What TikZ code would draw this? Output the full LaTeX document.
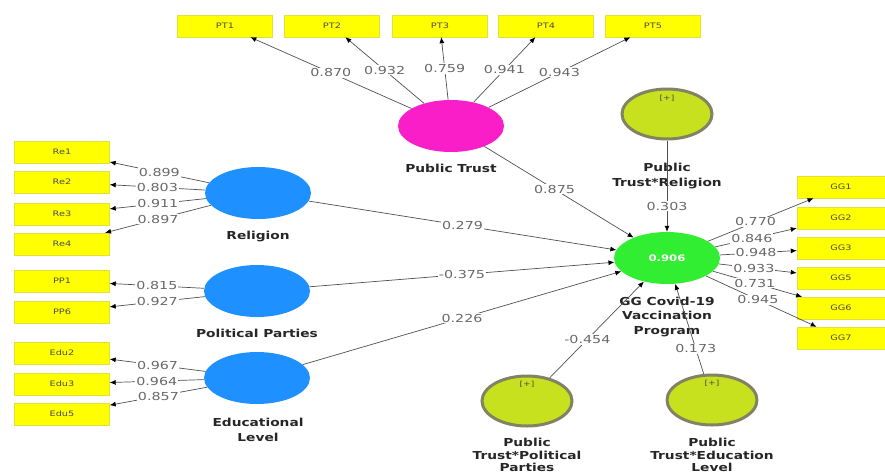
\documentclass[tikz,border=0pt]{standalone}
\usepackage{fontspec}
\setmainfont{DejaVu Sans}
\newfontfamily\numfont[FakeStretch=1.3]{DejaVu Sans}
\newfontfamily\namefont[FakeStretch=1.25]{DejaVu Sans}
\usetikzlibrary{arrows.meta,shapes.geometric}

\definecolor{ptpink}{RGB}{250,30,200}
\definecolor{lvblue}{RGB}{30,144,255}
\definecolor{gggreen}{RGB}{50,238,50}
\definecolor{modolive}{RGB}{200,225,30}
\definecolor{modedge}{RGB}{130,130,100}
\definecolor{indyellow}{RGB}{255,255,0}
\definecolor{indedge}{RGB}{225,225,60}
\definecolor{pathgray}{RGB}{80,80,80}
\definecolor{coefgray}{RGB}{105,105,105}

\tikzset{
    indicator/.style={draw=indedge, fill=indyellow, minimum width=95pt, minimum height=22pt,
        inner sep=0pt, text=black!70, font=\numfont\fontsize{7.5}{8}\selectfont},
    latent/.style={ellipse, minimum width=106pt, minimum height=52pt, inner sep=0pt},
    moderator/.style={ellipse, fill=modolive, draw=modedge, line width=3pt,
        minimum width=90pt, minimum height=50pt, inner sep=0pt},
    plus/.style={inner sep=0pt, text=black!70, font=\numfont\fontsize{7}{8}\selectfont},
    lvname/.style={align=center, text=black!85, font=\namefont\bfseries\fontsize{11}{14.5}\selectfont},
    load/.style={draw=pathgray, line width=0.7pt, -{Latex[length=6pt,width=5pt,color=black]}},
    coef/.style={fill=white, inner sep=1pt, text=coefgray, font=\numfont\fontsize{11}{12}\selectfont}
}

\begin{document}
\begin{tikzpicture}[x=1pt,y=-1pt]
    \useasboundingbox (0,0) rectangle (885,474);

    % indicators
    \node[indicator] (pt1) at (225,26) {PT1};
    \node[indicator] (pt2) at (332,26) {PT2};
    \node[indicator] (pt3) at (440,26) {PT3};
    \node[indicator] (pt4) at (546,26) {PT4};
    \node[indicator] (pt5) at (653,26) {PT5};

    \node[indicator] (re1) at (62,152) {Re1};
    \node[indicator] (re2) at (62,182) {Re2};
    \node[indicator] (re3) at (62,214) {Re3};
    \node[indicator] (re4) at (62,244) {Re4};
    \node[indicator] (pp1) at (62,281) {PP1};
    \node[indicator] (pp6) at (62,312) {PP6};
    \node[indicator] (edu2) at (62,353) {Edu2};
    \node[indicator] (edu3) at (62,384) {Edu3};
    \node[indicator] (edu5) at (62,414) {Edu5};

    \node[indicator, minimum width=88pt] (gg1) at (841,187) {GG1};
    \node[indicator, minimum width=88pt] (gg2) at (841,218) {GG2};
    \node[indicator, minimum width=88pt] (gg3) at (841,248) {GG3};
    \node[indicator, minimum width=88pt] (gg5) at (841,278) {GG5};
    \node[indicator, minimum width=88pt] (gg6) at (841,308) {GG6};
    \node[indicator, minimum width=88pt] (gg7) at (841,338) {GG7};

    % constructs
    \node[latent, fill=ptpink] (ptrust) at (451,126) {};
    \node[latent, fill=lvblue] (relig) at (258,193) {};
    \node[latent, fill=lvblue] (polpart) at (257,291) {};
    \node[latent, fill=lvblue] (educ) at (257,378) {};
    \node[latent, fill=gggreen, text=white, font=\numfont\bfseries\fontsize{9}{10}\selectfont] (ggvac) at (667,258) {0.906};

    \node[moderator] (ptrel) at (667,114) {};
    \node[moderator] (ptpol) at (527,401) {};
    \node[moderator] (ptedu) at (712,400) {};
    \node[plus] (ptrelplus) at ([yshift=-11pt]ptrel.north) {[+]};
    \node[plus] (ptpolplus) at ([yshift=-10pt]ptpol.north) {[+]};
    \node[plus] (ptedupplus) at ([yshift=-10pt]ptedu.north) {[+]};

    \node[lvname] (ptrustname) at (451,168) {Public Trust};
    \node[lvname] (religname) at (258,237) {Religion};
    \node[lvname] (polpartname) at (257,333) {Political Parties};
    \node[lvname] (educname) at (258,430) {Educational\\Level};
    \node[lvname] (ggvacname) at (667,317) {GG Covid-19\\Vaccination\\Program};
    \node[lvname] (ptrelname) at (667,176) {Public\\Trust*Religion};
    \node[lvname, font=\namefont\bfseries\fontsize{11}{12.5}\selectfont] (ptpolname) at (527,455) {Public\\Trust*Political\\Parties};
    \node[lvname, font=\namefont\bfseries\fontsize{11}{12.5}\selectfont] (ptedupname) at (712,455) {Public\\Trust*Education\\Level};

    % outer loadings
    \draw[load] (ptrust) -- node[coef] {0.870} (pt1);
    \draw[load] (ptrust) -- node[coef] {0.932} (pt2);
    \draw[load] (ptrust) -- node[coef] {0.759} (pt3);
    \draw[load] (ptrust) -- node[coef] {0.941} (pt4);
    \draw[load] (ptrust) -- node[coef] {0.943} (pt5);

    \draw[load] (relig) -- node[coef] {0.899} (re1);
    \draw[load] (relig) -- node[coef] {0.803} (re2);
    \draw[load] (relig) -- node[coef] {0.911} (re3);
    \draw[load] (relig) -- node[coef] {0.897} (re4);

    \draw[load] (polpart) -- node[coef] {0.815} (pp1);
    \draw[load] (polpart) -- node[coef] {0.927} (pp6);

    \draw[load] (educ) -- node[coef] {0.967} (edu2);
    \draw[load] (educ) -- node[coef] {0.964} (edu3);
    \draw[load] (educ) -- node[coef] {0.857} (edu5);

    \draw[load] (ggvac) -- node[coef, pos=0.45] {0.770} (gg1);
    \draw[load] (ggvac) -- node[coef, pos=0.45] {0.846} (gg2);
    \draw[load] (ggvac) -- node[coef, pos=0.47] {0.948} (gg3);
    \draw[load] (ggvac) -- node[coef, pos=0.45] {0.933} (gg5);
    \draw[load] (ggvac) -- node[coef, pos=0.47] {0.731} (gg6);
    \draw[load] (ggvac) -- node[coef, pos=0.47] {0.945} (gg7);

    % path coefficients
    \draw[load] (relig) -- node[coef] {0.279} (ggvac);
    \draw[load] (polpart) -- node[coef] {-0.375} (ggvac);
    \draw[load] (educ) -- node[coef] {0.226} (ggvac);
    \draw[load] (ptrust) -- node[coef, pos=0.47] {0.875} (ggvac);
    \draw[load] (ptrel) -- node[coef, pos=0.72] {0.303} (ggvac);
    \draw[load] (ptpol) -- node[coef, pos=0.4] {-0.454} (ggvac);
    \draw[load] (ptedu) -- node[coef, pos=0.28] {0.173} (ggvac);
\end{tikzpicture}
\end{document}
